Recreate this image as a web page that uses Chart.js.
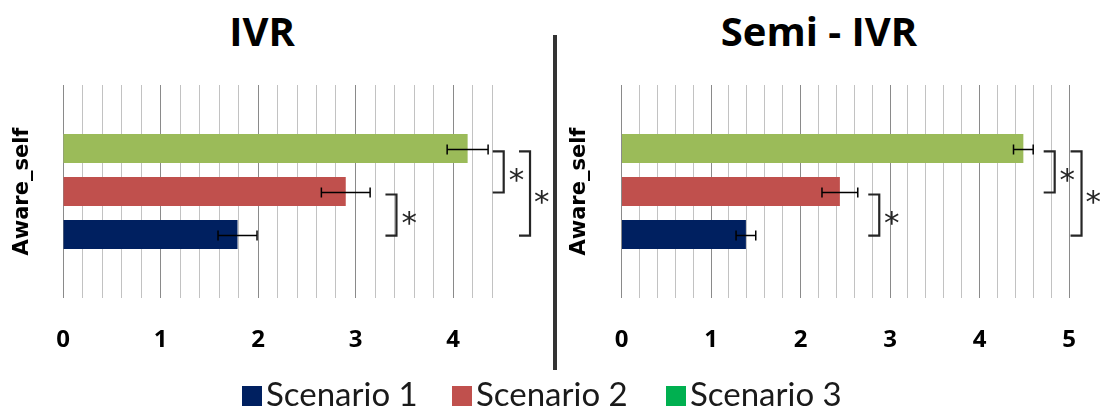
<!DOCTYPE html>
<html>
<head>
<meta charset="utf-8">
<script src="https://cdn.jsdelivr.net/npm/chart.js@4.4.0/dist/chart.umd.min.js"></script>
<style>
  body { margin: 0; background: #fff; width: 1104px; height: 412px; overflow: hidden; position: relative; }
  canvas { position: absolute; top: 0; }
  #ivr { left: 0; }
  #semi { left: 557px; }
  .title { position: absolute; top: 11px; width: 320px; text-align: center; font: bold 40px/40px "Open Sans", sans-serif; color: #000; }
  #divider { position: absolute; left: 553px; top: 35px; width: 4px; height: 335px; background: #333; }
  .item { position: absolute; top: 377px; font: 33px/32px Lato, sans-serif; color: #1a1a1a; white-space: nowrap; }
  .item i { display: inline-block; width: 20px; height: 20px; margin-right: 4px; vertical-align: baseline; }
</style>
</head>
<body>
<div class="title" style="left:102px">IVR</div>
<div class="title" style="left:659px">Semi - IVR</div>
<div id="divider"></div>
<canvas id="ivr" width="553" height="412"></canvas>
<canvas id="semi" width="547" height="412"></canvas>
<div class="item" style="left:242px"><i style="background:#002060"></i>Scenario 1</div>
<div class="item" style="left:452px"><i style="background:#C0504D"></i>Scenario 2</div>
<div class="item" style="left:666px"><i style="background:#00B050"></i>Scenario 3</div>
<script>
// data
const categories = ['Aware_self'];
const scenarios = ['Scenario 1', 'Scenario 2', 'Scenario 3'];
const ivrMeans = [1.79, 2.90, 4.15];
const ivrErrors = [0.20, 0.25, 0.21];
const semiMeans = [1.39, 2.44, 4.49];
const semiErrors = [0.11, 0.20, 0.11];
// significance brackets: [upper scenario, lower scenario, bracket x, star x]
const ivrBrackets = [[2, 1, 4.52, 4.65], [1, 0, 3.42, 3.55], [2, 0, 4.79, 4.91]];
const semiBrackets = [[2, 1, 4.84, 4.98], [1, 0, 2.88, 3.02], [2, 0, 5.14, 5.27]];

const barColors = ['#002060', '#C0504D', '#9BBB59'];

function isWhole(v) {
  return Math.abs(v - Math.round(v)) < 1e-6;
}

function marks(means, errors, brackets) {
  return {
    id: 'marks',
    afterDatasetsDraw(chart) {
      const ctx = chart.ctx;
      const x = chart.scales.x;
      const n = means.length;
      // datasets are stored in reverse (scenario 3 on top)
      const barY = i => chart.getDatasetMeta(n - 1 - i).data[0].y;
      ctx.save();
      ctx.strokeStyle = '#000';
      ctx.lineWidth = 1.5;
      for (let i = 0; i < n; i++) {
        const y = barY(i) + 1;
        const x1 = x.getPixelForValue(means[i] - errors[i]);
        const x2 = x.getPixelForValue(means[i] + errors[i]);
        ctx.beginPath();
        ctx.moveTo(x1, y); ctx.lineTo(x2, y);
        ctx.moveTo(x1, y - 5); ctx.lineTo(x1, y + 5);
        ctx.moveTo(x2, y - 5); ctx.lineTo(x2, y + 5);
        ctx.stroke();
      }
      ctx.strokeStyle = '#262626';
      ctx.lineWidth = 2.2;
      ctx.fillStyle = '#262626';
      ctx.font = '31px "DejaVu Sans"';
      ctx.textAlign = 'center';
      ctx.textBaseline = 'alphabetic';
      brackets.forEach(b => {
        const top = barY(b[0]) + 3;
        const bottom = barY(b[1]) + 1;
        const bx = x.getPixelForValue(b[2]);
        ctx.beginPath();
        ctx.moveTo(bx - 11, top); ctx.lineTo(bx, top);
        ctx.lineTo(bx, bottom); ctx.lineTo(bx - 11, bottom);
        ctx.stroke();
        ctx.fillText('*', x.getPixelForValue(b[3]), (top + bottom) / 2 + 18);
      });
      ctx.restore();
    }
  };
}

function makeChart(id, means, errors, brackets, max, yWidth, padRight) {
  const datasets = scenarios.map((s, i) => ({
    label: s,
    data: [means[i]],
    backgroundColor: barColors[i],
    borderWidth: 0,
    categoryPercentage: 0.606,
    barPercentage: 0.674
  })).reverse();

  return new Chart(document.getElementById(id).getContext('2d'), {
    type: 'bar',
    data: { labels: categories, datasets: datasets },
    options: {
      indexAxis: 'y',
      responsive: false,
      animation: false,
      layout: { padding: { top: 85, bottom: 54, left: 0, right: padRight } },
      plugins: { legend: { display: false }, tooltip: { enabled: false } },
      scales: {
        x: {
          min: 0,
          max: max,
          border: { display: false },
          grid: {
            drawTicks: false,
            lineWidth: 1,
            color: c => (c.tick && isWhole(c.tick.value)) ? '#8a8a8a' : '#c2c2c2'
          },
          ticks: {
            stepSize: 0.2,
            autoSkip: false,
            maxRotation: 0,
            padding: 28,
            color: '#000',
            font: { family: 'Open Sans', weight: 'bold', size: 24 },
            callback: v => isWhole(v) ? String(Math.round(v)) : ''
          },
          afterFit: s => { s.height = 60; }
        },
        y: {
          grid: { display: false },
          border: { display: false },
          ticks: { display: false },
          title: {
            display: true,
            text: categories[0],
            color: '#000',
            font: { family: 'DejaVu Sans', weight: 'bold', size: 21 },
            padding: { top: 10, bottom: 0 }
          },
          afterFit: s => { s.width = yWidth; }
        }
      }
    },
    plugins: [marks(means, errors, brackets)]
  });
}

makeChart('ivr', ivrMeans, ivrErrors, ivrBrackets, 4.4, 63, 61);
makeChart('semi', semiMeans, semiErrors, semiBrackets, 5, 64.5, 35);
</script>
</body>
</html>
